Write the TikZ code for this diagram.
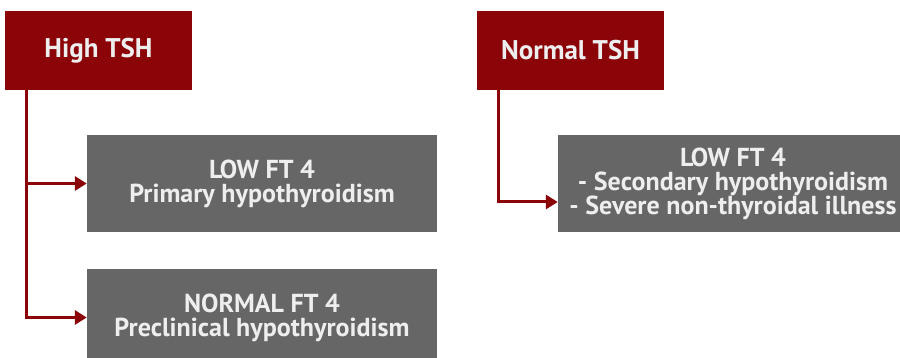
\documentclass[tikz,border=0pt]{standalone}
\usepackage{fontspec}
\setmainfont{PT Sans}
\usetikzlibrary{arrows.meta}
\definecolor{tshred}{RGB}{139,4,8}
\definecolor{ftgray}{RGB}{102,102,102}
\definecolor{ftwhite}{RGB}{238,238,238}
\begin{document}
\begin{tikzpicture}
    [x=1pt,y=-1pt,
     head/.style={shape=rectangle,fill=tshred,text=ftwhite,inner sep=0pt,
       minimum width=187pt,minimum height=79pt,
       font=\fontsize{27}{30}\selectfont\bfseries},
     result/.style={shape=rectangle,fill=ftgray,text=ftwhite,inner sep=0pt,
       minimum width=350pt,minimum height=97pt,align=center,
       font=\fontsize{26}{24}\selectfont\bfseries},
     post/.style={-{Triangle[length=12pt,width=14pt]},draw=tshred,line width=3pt}]
    \useasboundingbox (0,0) rectangle (900,358);
    \clip (0,0) rectangle (900,358);
    \node [head] (H) at (98.5,50.5) {High TSH};
    \node [head] (N) at (570.5,50.5) {Normal TSH};
    \node [result] (L1) at (262,183.5) {LOW FT 4\\Primary hypothyroidism};
    \node [result] (L2) at (262,317.5) {NORMAL FT 4\\Preclinical hypothyroidism};
    \node [result] (L3) at (733,183.5)
      {LOW FT 4\\- Secondary hypothyroidism\\- Severe non-thyroidal illness};
    \coordinate (h) at (26,90);
    \coordinate (n) at (498,90);
    \draw [post] (h) |- (L1.west);
    \draw [post] (h) |- (L2.west);
    \draw [post] (n) |- ([yshift=-18.5pt]L3.west);
  \end{tikzpicture}
\end{document}
